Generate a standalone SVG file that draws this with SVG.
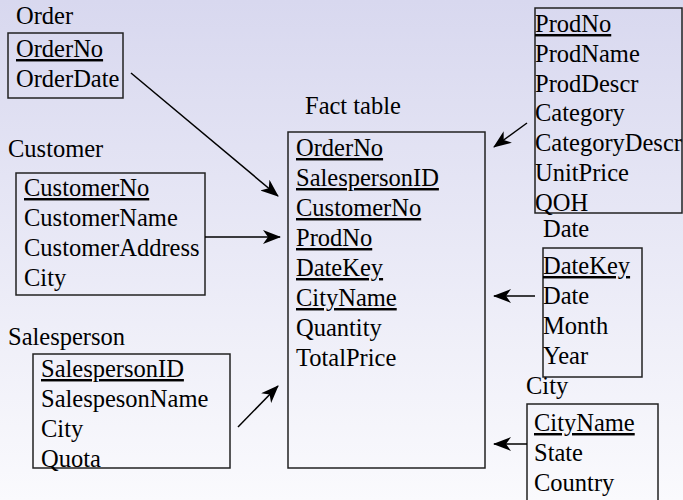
<svg xmlns="http://www.w3.org/2000/svg" width="683" height="500" viewBox="0 0 683 500" font-family="'Liberation Serif', 'Times New Roman', serif">
<defs>
<linearGradient id="bg" x1="0" y1="0" x2="0" y2="1">
<stop offset="0" stop-color="#d8d8ef"/>
<stop offset="1" stop-color="#fafafd"/>
</linearGradient>
<marker id="ah" markerUnits="userSpaceOnUse" markerWidth="18" markerHeight="14" viewBox="0 0 18 14" refX="17" refY="7" orient="auto">
<path d="M0,0 L18,7 L0,14 L5,7 z" fill="#000"/>
</marker>
<style>
text{font-family:'Liberation Serif','Times New Roman',serif;font-size:24.5px;fill:#000}
.k{text-decoration:underline}
.box{fill:none;stroke:#222;stroke-width:1.5}
.c line{stroke:#000;stroke-width:1.5;marker-end:url(#ah)}
</style>
</defs>
<rect width="683" height="500" fill="url(#bg)"/>
<g id="order">
<text x="16" y="24">Order</text>
<rect class="box" x="8" y="33" width="115" height="65"/>
<text class="k" x="16" y="57">OrderNo</text>
<text x="16" y="87">OrderDate</text>
</g>
<g id="customer">
<text x="8" y="157">Customer</text>
<rect class="box" x="16" y="173" width="189" height="122"/>
<text class="k" x="24" y="196">CustomerNo</text>
<text x="24" y="226">CustomerName</text>
<text x="24" y="256">CustomerAddress</text>
<text x="24" y="286">City</text>
</g>
<g id="salesperson">
<text x="8" y="345">Salesperson</text>
<rect class="box" x="33" y="354" width="197" height="114"/>
<text class="k" x="41" y="377">SalespersonID</text>
<text x="41" y="407">SalespesonName</text>
<text x="41" y="437">City</text>
<text x="41" y="467">Quota</text>
</g>
<g id="fact">
<text x="305" y="114">Fact table</text>
<rect class="box" x="288" y="132" width="197" height="336"/>
<text class="k" x="296" y="156">OrderNo</text>
<text class="k" x="296" y="186">SalespersonID</text>
<text class="k" x="296" y="216">CustomerNo</text>
<text class="k" x="296" y="246">ProdNo</text>
<text class="k" x="296" y="276">DateKey</text>
<text class="k" x="296" y="306">CityName</text>
<text x="296" y="336">Quantity</text>
<text x="296" y="366">TotalPrice</text>
</g>
<g id="product">
<rect class="box" x="535" y="8" width="147" height="205"/>
<text class="k" x="535" y="32">ProdNo</text>
<text x="535" y="62">ProdName</text>
<text x="535" y="92">ProdDescr</text>
<text x="535" y="121">Category</text>
<text x="535" y="151">CategoryDescr</text>
<text x="535" y="181">UnitPrice</text>
<text x="535" y="211">QOH</text>
</g>
<g id="date">
<text x="543" y="237">Date</text>
<rect class="box" x="543" y="248" width="99" height="129"/>
<text class="k" x="543" y="274">DateKey</text>
<text x="543" y="304">Date</text>
<text x="543" y="334">Month</text>
<text x="543" y="364">Year</text>
</g>
<g id="city">
<text x="526" y="394">City</text>
<rect class="box" x="527" y="404" width="131" height="110"/>
<text class="k" x="534" y="431">CityName</text>
<text x="534" y="461">State</text>
<text x="534" y="491">Country</text>
</g>
<g id="connectors" class="c">
<line x1="131" y1="73" x2="278" y2="196"/>
<line x1="205" y1="237" x2="280" y2="237"/>
<line x1="238" y1="427" x2="278" y2="386"/>
<line x1="527" y1="123" x2="494" y2="147"/>
<line x1="535" y1="296" x2="494" y2="296"/>
<line x1="527" y1="444" x2="494" y2="444"/>
</g>
</svg>
